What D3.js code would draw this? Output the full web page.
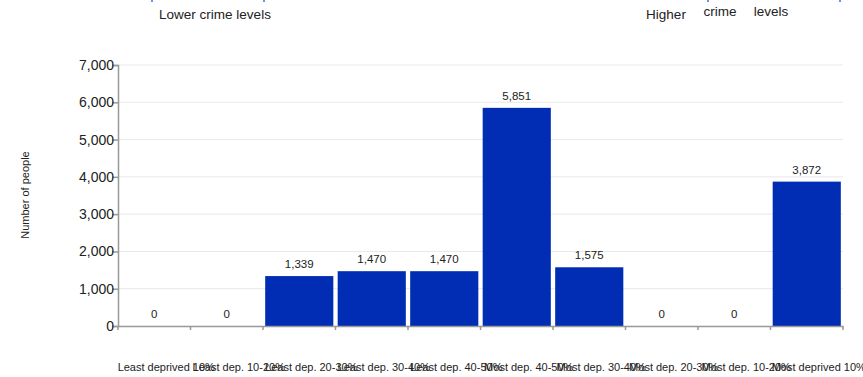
<!DOCTYPE html>
<html>
<head>
<meta charset="utf-8">
<script src="https://cdn.jsdelivr.net/npm/d3@7"></script>
<style>
  html, body { margin: 0; padding: 0; background: #fff; }
  svg { display: block; font-family: "Liberation Sans", Arial, sans-serif; }
</style>
</head>
<body>
<svg id="chart" width="863" height="377"></svg>
<script>
const categories = ["Least deprived 10%", "Least dep. 10-20%", "Least dep. 20-30%", "Least dep. 30-40%", "Least dep. 40-50%",
                    "Most dep. 40-50%", "Most dep. 30-40%", "Most dep. 20-30%", "Most dep. 10-20%", "Most deprived 10%"];
const values = [0, 0, 1339, 1470, 1470, 5851, 1575, 0, 0, 3872];
const yTicks = [0, 1000, 2000, 3000, 4000, 5000, 6000, 7000];
const yTitle = "Number of people";
const topLeftLabel = "Lower crime levels";
const topRightWords = ["Higher", "crime", "levels"];

(function () {
const svg = d3.select("#chart");
const pLeft = 118, pRight = 843, pTop = 65, pBottom = 326;
const barColor = "#002db3";

const x = d3.scaleBand().domain(categories).range([pLeft, pRight]).paddingInner(0.06).paddingOuter(0.03);
const xb = d3.scaleBand().domain(categories).range([pLeft, pRight]);
const y = d3.scaleLinear().domain([0, 7000]).range([pBottom, pTop]);

// gridlines
svg.append("g").selectAll("line").data(yTicks.filter(d => d > 0)).join("line")
  .attr("x1", pLeft).attr("x2", pRight)
  .attr("y1", d => y(d)).attr("y2", d => y(d))
  .attr("stroke", "#e8e8e8").attr("stroke-width", 1);

// bars
svg.append("g").selectAll("rect").data(values).join("rect")
  .attr("x", (d, i) => x(categories[i]))
  .attr("width", x.bandwidth())
  .attr("y", d => y(d))
  .attr("height", d => pBottom - y(d))
  .attr("fill", barColor);

// value labels
svg.append("g").selectAll("text").data(values).join("text")
  .attr("x", (d, i) => xb(categories[i]) + xb.bandwidth() / 2)
  .attr("y", d => y(d) - 8)
  .attr("text-anchor", "middle")
  .attr("font-size", 11.5)
  .attr("fill", "#222")
  .text(d => d3.format(",")(d));

// y axis
const yAxis = d3.axisLeft(y).tickValues(yTicks).tickFormat(d3.format(",")).tickSize(6).tickPadding(-2);
const gy = svg.append("g").attr("transform", `translate(${pLeft},0)`).call(yAxis);
gy.select(".domain").attr("stroke", "#999").attr("stroke-width", 1.5);
gy.selectAll(".tick line").attr("stroke", "#999").attr("stroke-width", 1.5);
gy.selectAll(".tick text").attr("font-size", 14).attr("fill", "#222")
  .attr("font-family", "Liberation Sans, Arial, sans-serif");

// x axis
const xAxis = d3.axisBottom(xb).tickSize(0).tickFormat("");
const gx = svg.append("g").attr("transform", `translate(0,${pBottom})`).call(xAxis);
gx.select(".domain").attr("stroke", "#999").attr("stroke-width", 1.5);
gx.selectAll(".tick").remove();
// band-boundary tick marks
svg.append("g").selectAll("line").data(categories.concat(["__end"])).join("line")
  .attr("x1", (d, i) => i < categories.length ? xb(d) : pRight)
  .attr("x2", (d, i) => i < categories.length ? xb(d) : pRight)
  .attr("y1", pBottom).attr("y2", pBottom + 4)
  .attr("stroke", "#999").attr("stroke-width", 1.5);

// x category labels
svg.append("g").selectAll("text").data(categories).join("text")
  .attr("x", d => xb(d) + xb.bandwidth() / 2 + 12)
  .attr("y", 371)
  .attr("text-anchor", "middle")
  .attr("font-size", 11)
  .attr("fill", "#222")
  .text(d => d);

// y title
svg.append("text")
  .attr("transform", "translate(29,195) rotate(-90)")
  .attr("text-anchor", "middle")
  .attr("font-size", 11)
  .attr("fill", "#222")
  .text(yTitle);

// top annotations
svg.append("text").attr("x", 215).attr("y", 19).attr("text-anchor", "middle")
  .attr("font-size", 13.5).attr("fill", "#222").text(topLeftLabel);
const rightPos = [[666, 19], [720, 16], [771, 16]];
svg.append("g").selectAll("text").data(topRightWords).join("text")
  .attr("x", (d, i) => rightPos[i][0]).attr("y", (d, i) => rightPos[i][1])
  .attr("text-anchor", "middle").attr("font-size", 13.5).attr("fill", "#222")
  .text(d => d);

// clipped bracket ends at top edge
svg.append("g").selectAll("line").data([152, 264, 708, 840]).join("line")
  .attr("x1", d => d).attr("x2", d => d).attr("y1", -2).attr("y2", 2)
  .attr("stroke", "#3b6fd8").attr("stroke-width", 1.5);
})();
</script>
</body>
</html>
